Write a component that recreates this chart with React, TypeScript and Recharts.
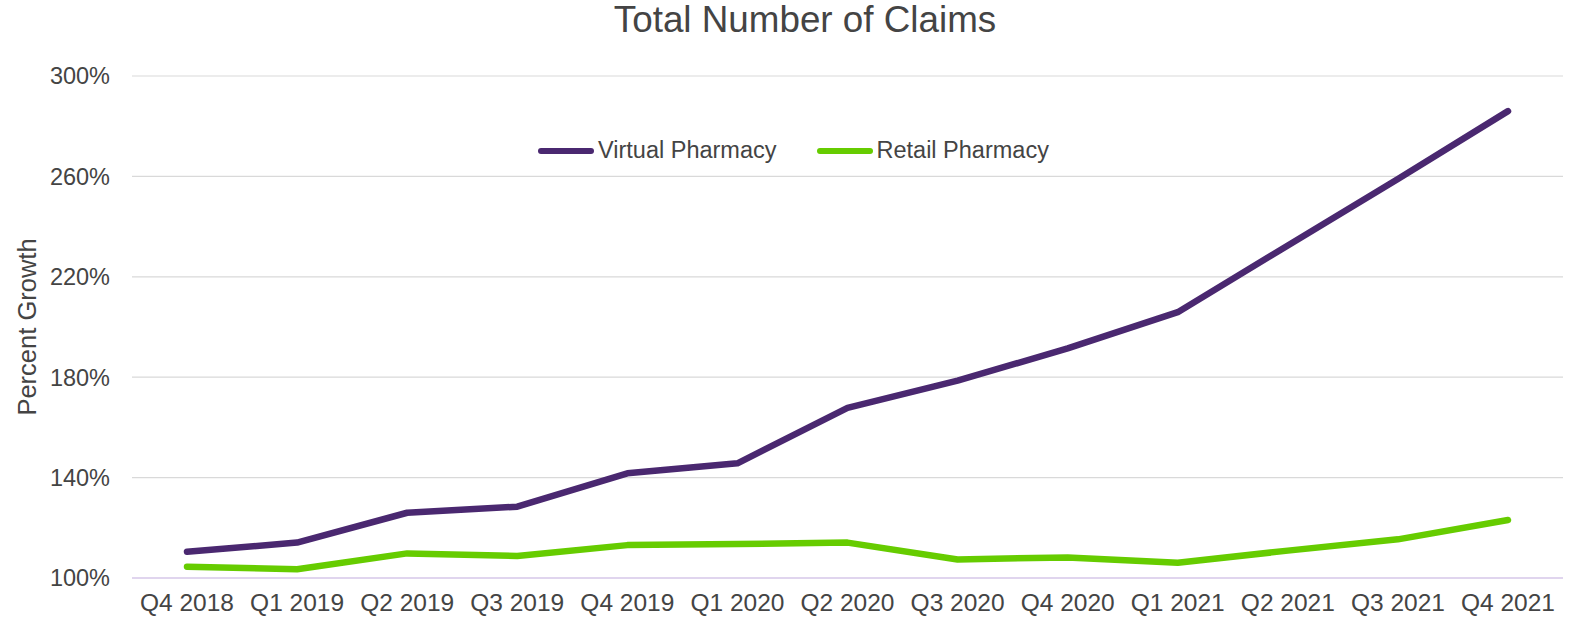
import React from 'react'
import { LineChart, Line, XAxis, YAxis, CartesianGrid, Label } from 'recharts'

const quarters = [
  'Q4 2018', 'Q1 2019', 'Q2 2019', 'Q3 2019', 'Q4 2019', 'Q1 2020', 'Q2 2020',
  'Q3 2020', 'Q4 2020', 'Q1 2021', 'Q2 2021', 'Q3 2021', 'Q4 2021',
]
const virtualPharmacy = [110.5, 114.1, 126, 128.4, 141.7, 145.7, 167.8, 178.6, 191.5, 205.9, 232.5, 259, 286]
const retailPharmacy = [104.5, 103.5, 109.8, 108.8, 113.1, 113.5, 114.1, 107.4, 108.2, 106.1, 110.9, 115.4, 123.1]
const yTicks = [100, 140, 180, 220, 260, 300]

const series = [
  { key: 'virtual', name: 'Virtual Pharmacy', color: '#4a2870' },
  { key: 'retail', name: 'Retail Pharmacy', color: '#66cc00' },
]

const data = quarters.map((q, i) => ({
  quarter: q,
  virtual: virtualPharmacy[i],
  retail: retailPharmacy[i],
}))

const textColor = '#444444'
const font = '"Liberation Sans", Arial, sans-serif'

function AxisTitle({ viewBox }: any) {
  const cy = viewBox.y + viewBox.height / 2
  return (
    <text
      x={27}
      y={cy}
      transform={`rotate(-90, 27, ${cy})`}
      textAnchor="middle"
      dominantBaseline="central"
      fill={textColor}
      fontSize={25.5}
      fontFamily={font}
    >
      Percent Growth
    </text>
  )
}

export default function App() {
  return (
    <div style={{ position: 'absolute', left: 0, top: 0, width: 1570, height: 621, background: '#fff' }}>
      <div style={{
        position: 'absolute', top: 2, left: 0, width: 1610, textAlign: 'center',
        fontFamily: font, fontSize: 36.8, lineHeight: 1, color: textColor,
      }}>
        Total Number of Claims
      </div>
      <div style={{
        position: 'absolute', top: 137, left: 538, zIndex: 1, display: 'flex', alignItems: 'center',
        fontFamily: font, fontSize: 23.5, lineHeight: '27px', color: textColor,
      }}>
        {series.map((s, i) => (
          <div key={s.key} style={{ display: 'flex', alignItems: 'center', marginLeft: i === 0 ? 0 : 40 }}>
            <span style={{ display: 'inline-block', width: 56, height: 6, borderRadius: 3, background: s.color, marginRight: 4 }} />
            <span>{s.name}</span>
          </div>
        ))}
      </div>
      <LineChart width={1570} height={621} data={data} margin={{ top: 76, right: 7, left: 0, bottom: 13 }}>
        <CartesianGrid vertical={false} stroke="#d9d9d9" strokeWidth={1.2} />
        <XAxis
          dataKey="quarter"
          height={30}
          padding={{ left: 55, right: 55 }}
          axisLine={{ stroke: '#e0d5ee', strokeWidth: 2 }}
          tickLine={false}
          tickSize={0}
          tickMargin={16}
          interval={0}
          tick={{ fontSize: 24.5, fill: textColor, fontFamily: font }}
        />
        <YAxis
          width={132}
          domain={[100, 300]}
          ticks={yTicks}
          tickFormatter={v => `${v}%`}
          axisLine={false}
          tickLine={false}
          tickSize={0}
          tickMargin={22}
          tick={{ fontSize: 23.5, fill: textColor, fontFamily: font }}
        >
          <Label content={<AxisTitle />} />
        </YAxis>
        {series.map(s => (
          <Line
            key={s.key}
            type="linear"
            dataKey={s.key}
            name={s.name}
            stroke={s.color}
            strokeWidth={6.5}
            strokeLinecap="round"
            strokeLinejoin="round"
            dot={false}
            activeDot={false}
            isAnimationActive={false}
          />
        ))}
      </LineChart>
    </div>
  )
}
